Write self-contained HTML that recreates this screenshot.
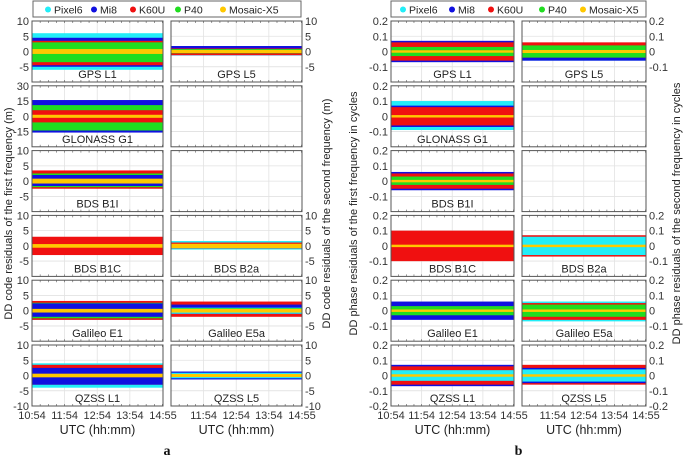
<!DOCTYPE html>
<html><head><meta charset="utf-8">
<style>
html,body{margin:0;padding:0;background:#fff;}
svg{display:block;font-family:"Liberation Sans",Arial,sans-serif;}
</style></head>
<body>
<svg id="fig" width="685" height="458" viewBox="0 0 685 458" xmlns="http://www.w3.org/2000/svg"></svg>
<script>
// ---- data ----
const seriesNames = ["Pixel6","Mi8","K60U","P40","Mosaic-X5"];
const seriesColors = {Pixel6:"#22eef8",Mi8:"#1010e0",K60U:"#f01010",P40:"#20dd20","Mosaic-X5":"#ffc800"};
const rowLabelsLeft = ["GPS L1","GLONASS G1","BDS B1I","BDS B1C","Galileo E1","QZSS L1"];
const rowLabelsRight = ["GPS L5","","","BDS B2a","Galileo E5a","QZSS L5"];
const timeTicks = [0,60,120,180,241];
const timeTickLabels = ["10:54","11:54","12:54","13:54","14:55"];
const codeTicks = [10,5,0,-5];
const codeGloTicks = [30,15,0,-15];
const phaseTicks = [0.2,0.1,0,-0.1];
// bands: [series, low, high] drawn in listed order
const codeFirst = [
 [["Pixel6",-6,6],["Mi8",-5,4.5],["K60U",-4.5,3.5],["P40",-3.5,3],["Mosaic-X5",-0.8,0.8]],
 [["Mi8",-16,16],["P40",-14,11],["K60U",-6,6],["Mosaic-X5",-1.5,1.5]],
 [["K60U",-2.5,3.5],["P40",-2,2.5],["Mi8",-1.6,2],["Mosaic-X5",-0.8,0.8]],
 [["K60U",-3,3],["Mosaic-X5",-0.6,0.6]],
 [["Pixel6",-3,3],["K60U",-3,3.2],["P40",-2.5,2.6],["Mi8",-2,2.4],["Mosaic-X5",-0.6,0.6]],
 [["Pixel6",-4,4],["K60U",-3,3.5],["Mi8",-3,2.5],["Mosaic-X5",-0.6,0.6]]
];
const codeSecond = [
 [["Pixel6",-1.3,1.3],["Mi8",-1.2,1.8],["K60U",-1.2,1],["P40",-0.6,0.8],["Mosaic-X5",-0.5,0.5]],
 null, null,
 [["Pixel6",-1.2,1.6],["K60U",-0.8,1.1],["Mosaic-X5",-0.7,0.7]],
 [["K60U",-2,3],["Mi8",-1,2],["Pixel6",-1,1],["P40",-0.5,0.8],["Mosaic-X5",-0.6,0.6]],
 [["Mi8",-1.3,1.3],["Pixel6",-0.9,0.9],["K60U",-0.5,0.5],["Mosaic-X5",-0.5,0.5]]
];
const phaseFirst = [
 [["Mi8",-0.07,0.07],["K60U",-0.06,0.06],["P40",-0.03,0.03],["Mosaic-X5",-0.008,0.008]],
 [["Pixel6",-0.09,0.1],["Mi8",-0.07,0.07],["K60U",-0.06,0.06],["Mosaic-X5",-0.008,0.008]],
 [["Mi8",-0.06,0.06],["K60U",-0.05,0.05],["P40",-0.025,0.03],["Mosaic-X5",-0.008,0.008]],
 [["K60U",-0.1,0.1],["Mosaic-X5",-0.008,0.008]],
 [["Mi8",-0.06,0.06],["P40",-0.03,0.03],["Mosaic-X5",-0.008,0.008]],
 [["Mi8",-0.07,0.07],["K60U",-0.06,0.06],["Pixel6",-0.035,0.035],["Mosaic-X5",-0.008,0.008]]
];
const phaseSecond = [
 [["Pixel6",-0.06,0.05],["Mi8",-0.06,0.05],["K60U",-0.04,0.06],["P40",-0.04,0.04],["Mosaic-X5",-0.01,0.01]],
 null, null,
 [["K60U",-0.07,0.07],["Pixel6",-0.06,0.06],["Mosaic-X5",-0.008,0.008]],
 [["Pixel6",-0.07,0.06],["K60U",-0.06,0.05],["P40",-0.04,0.04],["Mosaic-X5",-0.008,0.008]],
 [["K60U",-0.06,0.07],["Mi8",-0.05,0.05],["Pixel6",-0.04,0.04],["Mosaic-X5",-0.008,0.008]]
];

// ---- layout ----
const NS="http://www.w3.org/2000/svg";
const svg=document.getElementById('fig');
function el(tag,attrs,parent){const e=document.createElementNS(NS,tag);for(const k in attrs)e.setAttribute(k,attrs[k]);(parent||svg).appendChild(e);return e;}
const rowTops=[21,85.8,150.6,215.4,280.2,345];
const PH=61;
const TMAX=241;

function panel(x0,x1,rowIdx,ymax,ticks,bands,label,side,tickFmt,showTickLabels,name){
  const y0=rowTops[rowIdx], y1=y0+PH;
  const g=el('g',{});
  
  
  const xs=t=>x0+(t/TMAX)*(x1-x0);
  const ys=v=>y0+(ymax-v)/(2*ymax)*PH;
  el('rect',{x:x0,y:y0,width:x1-x0,height:PH,fill:'#fff'},g);
  for(let i=1;i<timeTicks.length-1;i++){
    el('line',{x1:xs(timeTicks[i]),x2:xs(timeTicks[i]),y1:y0,y2:y1,stroke:'#e2e2e2','stroke-width':0.8},g);
  }
  ticks.forEach(v=>{ if(v!==ymax) el('line',{x1:x0,x2:x1,y1:ys(v),y2:ys(v),stroke:'#e2e2e2','stroke-width':0.8},g);});
  el('line',{x1:x0,x2:x1,y1:ys(-ymax/2),y2:ys(-ymax/2),stroke:'#e2e2e2','stroke-width':0.8},g);
  if(bands){
    bands.forEach(b=>{
      const r=el('rect',{x:xs(0),y:ys(b[2]),width:xs(TMAX)-xs(0),height:ys(b[1])-ys(b[2]),fill:seriesColors[b[0]]},g);
      
      
    });
  }
  el('rect',{x:x0,y:y0,width:x1-x0,height:PH,fill:'none',stroke:'#555','stroke-width':1},g);
  for(let t=0;t<=TMAX;t+=15){el('line',{x1:xs(t),x2:xs(t),y1:y1,y2:y1-2,stroke:'#555','stroke-width':0.6},g);el('line',{x1:xs(t),x2:xs(t),y1:y0,y2:y0+2,stroke:'#555','stroke-width':0.6},g);}
  if(label){
    const t=el('text',{x:(x0+x1)/2,y:y1-4,'text-anchor':'middle','font-size':11,fill:'#222'},g);
    t.textContent=label;
    
    
  }
  if(showTickLabels){
    const all=ticks.slice(); if(rowIdx===5) all.push(-ymax);
    all.forEach(v=>{
      const t=el('text',{x:side==='left'?x0-3:x1+3,y:ys(v)+4,'text-anchor':side==='left'?'end':'start','font-size':11,fill:'#333'},g);
      t.textContent=tickFmt(v);
      
      
    });
  }
}
const fmtCode=v=>String(v);
const fmtPhase=v=>v===0?'0':String(v);

function figure(L0,L1,R0,R1,first,second,isPhase,ylabL,ylabR,letter,legX,legY,legW,dots){
  for(let r=0;r<6;r++){
    let ymaxL,ticksL;
    if(isPhase){ymaxL=0.2;ticksL=phaseTicks;} else if(r===1){ymaxL=30;ticksL=codeGloTicks;} else {ymaxL=10;ticksL=codeTicks;}
    panel(L0,L1,r,ymaxL,ticksL,first[r],rowLabelsLeft[r],'left',isPhase?fmtPhase:fmtCode,true,'panel-'+rowLabelsLeft[r].toLowerCase().replace(/ /g,'-'));
    const ymaxR=isPhase?0.2:10, ticksR=isPhase?phaseTicks:codeTicks;
    panel(R0,R1,r,ymaxR,ticksR,second[r],rowLabelsRight[r],'right',isPhase?fmtPhase:fmtCode,second[r]!==null,'panel-second-'+r);
  }
  const yb=rowTops[5]+PH;
  timeTicks.forEach((t,i)=>{
    const a=el('text',{x:L0+t/TMAX*(L1-L0),y:yb+13,'text-anchor':'middle','font-size':11,fill:'#333'});
    a.textContent=timeTickLabels[i];
    
    
    if(i>0){
      const b=el('text',{x:R0+t/TMAX*(R1-R0),y:yb+13,'text-anchor':'middle','font-size':11,fill:'#333'});
      b.textContent=timeTickLabels[i];
      
      
    }
  });
  [[L0,L1],[R0,R1]].forEach(p=>{
    const t=el('text',{x:(p[0]+p[1])/2,y:yb+28,'text-anchor':'middle','font-size':12.5,fill:'#222'});
    t.textContent='UTC (hh:mm)';
    
    
  });
  const cy=(rowTops[0]+yb)/2;
  const tl=el('text',{x:0,y:0,'text-anchor':'middle','font-size':11,fill:'#222',transform:`translate(${ylabL},${cy}) rotate(-90)`});
  tl.textContent=isPhase?'DD phase residuals of the first frequency in cycles':'DD code residuals of the first frequency (m)';
  
  
  const tr=el('text',{x:0,y:0,'text-anchor':'middle','font-size':11,fill:'#222',transform:`translate(${ylabR},${cy}) rotate(-90)`});
  tr.textContent=isPhase?'DD phase residuals of the second frequency in cycles':'DD code residuals of the second frequency (m)';
  
  
  const lt=el('text',{x:(L0+R1)/2,y:455,'text-anchor':'middle','font-size':14,'font-weight':'bold','font-family':'Liberation Serif, serif',fill:'#111'});
  lt.textContent=letter;
  
  
  const lg=el('g',{});
  
  
  el('rect',{x:legX,y:legY,width:legW,height:16,fill:'#fff',stroke:'#666','stroke-width':1},lg);
  seriesNames.forEach((s,i)=>{
    const e=el('g',{},lg);
    
    
    el('circle',{cx:dots[i],cy:legY+8.5,r:3,fill:seriesColors[s]},e);
    const t=el('text',{x:dots[i]+6,y:legY+12.5,'font-size':10.5,fill:'#222'},e);
    t.textContent=s;
  });
}
figure(32,163,171,302,codeFirst,codeSecond,false,12,330,'a',33,1,268,[48,94,133,178,223]);
figure(391,514,522,646,phaseFirst,phaseSecond,true,357,680,'b',391,1,255,[403,452,491,542,583]);
</script>
</body></html>
